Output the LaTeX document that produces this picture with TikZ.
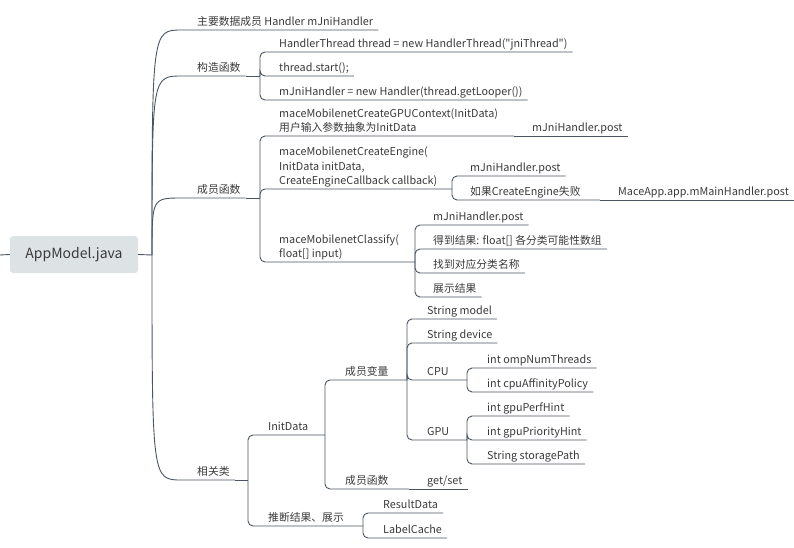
\documentclass[tikz,border=0pt]{standalone}
\usepackage{fontspec}
\newfontfamily\topicfont{Noto Sans CJK SC}
\usepackage{tikz}
\usetikzlibrary{positioning, calc}

\definecolor{linec}{HTML}{4A5561}
\definecolor{textc}{HTML}{3A3A3A}
\definecolor{rootc}{HTML}{DDE3E5}

\begin{document}
\begin{tikzpicture}[
  x=1pt, y=-1pt,
  topic/.style={anchor=south west, xshift=-5pt, inner xsep=5pt, inner ysep=1.5pt, text depth=2.5pt, align=left, font=\topicfont\fontsize{10.8}{14.5}\selectfont, text=textc},
  rootbox/.style={fill=rootc, rounded corners=3pt, minimum width=128pt, minimum height=37pt, inner sep=0pt, font=\topicfont\fontsize{14}{17}\selectfont, text=textc},
  link/.style={draw=linec, line width=0.9pt, rounded corners=5pt},
]
\useasboundingbox (0,0) rectangle (794,548);

% root
\node[rootbox] (root) at (74,254.5) {AppModel.java};
\coordinate (stub) at (0,255);
\coordinate (root-f) at (152,255);

% first level
\node[topic] (mem) at (197,30) {主要数据成员 Handler mJniHandler};
\node[topic] (ctor) at (197,76) {构造函数};
\node[topic] (funcs) at (197,198) {成员函数};
\node[topic] (rel) at (197,480) {相关类};
\coordinate (ctor-f) at (260,76);
\coordinate (funcs-f) at (260,198);
\coordinate (rel-f) at (248,480);

% constructor
\node[topic] (c1) at (279,52) {HandlerThread thread = new HandlerThread("jniThread")};
\node[topic] (c2) at (279,76) {thread.start();};
\node[topic] (c3) at (279,100) {mJniHandler = new Handler(thread.getLooper())};

% member functions
\node[topic] (gpu) at (279,136) {maceMobilenetCreateGPUContext(InitData)\\用户输入参数抽象为InitData};
\coordinate (gpu-f) at (514,136);
\node[topic] (gpu-post) at (532,136) {mJniHandler.post};
\node[topic] (eng) at (279,189) {maceMobilenetCreateEngine(\\InitData initData,\\CreateEngineCallback callback)};
\coordinate (eng-f) at (452,189);
\node[topic] (eng-post) at (470,176) {mJniHandler.post};
\node[topic] (eng-fail) at (470,200) {如果CreateEngine失败};
\coordinate (fail-f) at (600,200);
\node[topic] (fail-post) at (618,200) {MaceApp.app.mMainHandler.post};
\node[topic] (cls) at (279,262) {maceMobilenetClassify(\\float[] input)};
\coordinate (cls-f) at (415,262);
\node[topic] (cls1) at (433,225) {mJniHandler.post};
\node[topic] (cls2) at (433,249) {得到结果: float[] 各分类可能性数组};
\node[topic] (cls3) at (433,273) {找到对应分类名称};
\node[topic] (cls4) at (433,297) {展示结果};

% related classes
\node[topic] (init) at (268,435) {InitData};
\coordinate (init-f) at (325,435);
\node[topic] (infer) at (268,526) {推断结果、展示};
\coordinate (infer-f) at (363,526);
\node[topic] (vars) at (345,380) {成员变量};
\coordinate (vars-f) at (407,380);
\node[topic] (meth) at (345,489) {成员函数};
\coordinate (meth-f) at (409,489);
\node[topic] (smodel) at (427,319) {String model};
\node[topic] (sdev) at (427,343) {String device};
\node[topic] (cpu) at (427,380) {CPU};
\coordinate (cpu-f) at (467,380);
\node[topic] (gpuv) at (427,440) {GPU};
\coordinate (gpuv-f) at (467,440);
\node[topic] (omp) at (487,368) {int ompNumThreads};
\node[topic] (aff) at (487,392) {int cpuAffinityPolicy};
\node[topic] (perf) at (487,416) {int gpuPerfHint};
\node[topic] (prio) at (487,440) {int gpuPriorityHint};
\node[topic] (spath) at (487,464) {String storagePath};
\node[topic] (getset) at (427,489) {get/set};
\node[topic] (result) at (383,513) {ResultData};
\node[topic] (label) at (383,538) {LabelCache};

% connectors
\draw[link] (stub) -- (root.west);
\draw[link] (root.east) -- (root-f);
\foreach \c in {mem,ctor,funcs,rel}
  \draw[link] (root-f) .. controls (root-f |- \c.south) .. ([xshift=-5pt]\c.south west) -- (\c.south east);
\draw[link] (ctor.south east) -- (ctor-f);
\draw[link] (funcs.south east) -- (funcs-f);
\draw[link] (rel.south east) -- (rel-f);
\foreach \c in {c1,c2,c3}
  \draw[link] (ctor-f) |- (\c.south east);
\draw[link] (funcs-f) |- (gpu.south east) -- (gpu-f);
\draw[link] (funcs-f) |- (eng.south east) -- (eng-f);
\draw[link] (funcs-f) |- (cls.south east) -- (cls-f);
\draw[link] (gpu-f) -- (gpu-post.south east);
\draw[link] (eng-f) |- (eng-post.south east);
\draw[link] (eng-f) |- (eng-fail.south east) -- (fail-f);
\draw[link] (fail-f) -- (fail-post.south east);
\foreach \c in {cls1,cls2,cls3,cls4}
  \draw[link] (cls-f) |- (\c.south east);
\draw[link] (rel-f) |- (init.south east) -- (init-f);
\draw[link] (rel-f) |- (infer.south east) -- (infer-f);
\draw[link] (init-f) |- (vars.south east) -- (vars-f);
\draw[link] (init-f) |- (meth.south east) -- (meth-f);
\draw[link] (vars-f) |- (smodel.south east);
\draw[link] (vars-f) |- (sdev.south east);
\draw[link] (vars-f) |- (cpu.south east) -- (cpu-f);
\draw[link] (vars-f) |- (gpuv.south east) -- (gpuv-f);
\foreach \c in {omp,aff}
  \draw[link] (cpu-f) |- (\c.south east);
\foreach \c in {perf,prio,spath}
  \draw[link] (gpuv-f) |- (\c.south east);
\draw[link] (meth-f) -- (getset.south east);
\foreach \c in {result,label}
  \draw[link] (infer-f) |- (\c.south east);
\end{tikzpicture}
\end{document}
